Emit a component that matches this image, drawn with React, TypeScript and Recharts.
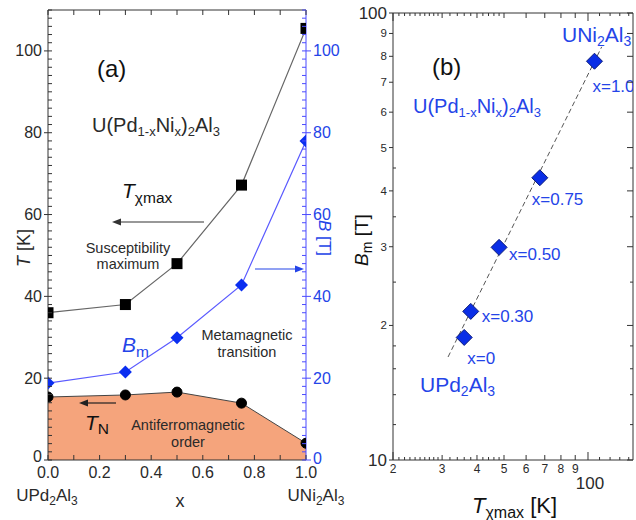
import React from "react";
import { ComposedChart, Line, Area, Scatter, XAxis, YAxis } from "recharts";

const FONT = '"Liberation Sans", Arial, Helvetica, sans-serif';
const INK = "#2a2a2a";
const BLUE = "#2444e8";
const AXIS_BLUE = "#4a4aff";
const AFM_FILL = "#f5a47c";

// composition x of U(Pd1-xNix)2Al3
const compX = [0, 0.3, 0.5, 0.75, 1.0];
// susceptibility maximum T_chimax [K]
const tChiMax = [36, 38, 48, 67.2, 105.5];
// Neel temperature T_N [K]
const tNeel = [15.4, 15.9, 16.6, 13.9, 4.1];
// metamagnetic field B_m [T]
const bMeta = [18.8, 21.5, 29.9, 42.8, 78];
const compLabels = ["x=0", "x=0.30", "x=0.50", "x=0.75", "x=1.0"];

// dashed guide line of panel (b), end points
const guideT = [31.5, 112];
const guideB = [17, 84];

// ticks
const xTicksA = [0, 0.2, 0.4, 0.6, 0.8, 1.0];
const xMinorA = [0, 0.1, 0.2, 0.3, 0.4, 0.5, 0.6, 0.7, 0.8, 0.9, 1.0];
const yTicksA = [0, 20, 40, 60, 80, 100];
const yMinorA = Array.from({ length: 56 }, (_, i) => i * 2);
const tTicksB = [20, 30, 40, 50, 60, 70, 80, 90, 100];
const tTickLabelsB = ["2", "3", "4", "5", "6", "7", "8", "9", "100"];
const tMinorB = [21, 22, 23, 24, 25, 26, 27, 28, 29, 32, 34, 36, 38, 42, 44, 46, 48, 110, 120, 130, 140];
const bTicksB = [10, 20, 30, 40, 50, 60, 70, 80, 90, 100];
const bTickLabelsB = ["10", "2", "3", "4", "5", "6", "7", "8", "9", "100"];
const bMinorB = [12, 14, 16, 18, 25, 35, 45];

const tAllB = [...tTicksB, ...tMinorB].sort((a, b) => a - b);
const bAllB = [...bTicksB, ...bMinorB].sort((a, b) => a - b);

type Part = [string, "n" | "s" | "i"];
const upd: Part[] = [["UPd", "n"], ["2", "s"], ["Al", "n"], ["3", "s"]];
const uni: Part[] = [["UNi", "n"], ["2", "s"], ["Al", "n"], ["3", "s"]];
const alloy: Part[] = [["U(Pd", "n"], ["1-x", "s"], ["Ni", "n"], ["x", "s"], [")", "n"], ["2", "s"], ["Al", "n"], ["3", "s"]];

const rowsA = compX.map((x, i) => ({ x, tchi: tChiMax[i], tn: tNeel[i], bm: bMeta[i] }));
const pointsB = compX.map((_, i) => ({ t: tChiMax[i], b: bMeta[i], label: compLabels[i] }));
const guideRows = guideT.map((t, i) => ({ t, b: guideB[i] }));

// where each x=... label sits relative to its diamond
const labelOffsetB = [[3, 27], [11, 11], [10, 13], [-8, 27], [-2, 31]];

const Rich = ({ parts, size, sub, shift = 4 }: { parts: Part[]; size: number; sub: number; shift?: number }) => {
  let cur = 0;
  return (
    <>
      {parts.map(([s, k], i) => {
        const target = k === "s" ? shift : 0;
        const dy = target - cur;
        cur = target;
        return (
          <tspan key={i} dy={dy} fontSize={k === "s" ? sub : size} fontStyle={k === "i" ? "italic" : undefined}>
            {s}
          </tspan>
        );
      })}
    </>
  );
};

const near = (arr: number[], v: number) => arr.some((a) => Math.abs(a - v) < 1e-6);

// ---- panel (a) ticks: tick marks drawn by hand so they can point inward
const BottomTickA = (p: any) => {
  const v = p.payload.value as number;
  const major = near(xTicksA, v);
  return (
    <g>
      <line x1={p.x} x2={p.x} y1={p.y} y2={p.y - 5} stroke="#333" />
      {major && (
        <text x={p.x} y={p.y + 18} textAnchor="middle" fontSize={16} fill={INK}>
          {v.toFixed(1)}
        </text>
      )}
      {v === 0 && (
        <text x={p.x - 1} y={p.y + 41} textAnchor="middle" fill={INK}>
          <Rich parts={upd} size={17} sub={12} />
        </text>
      )}
      {v === 1 && (
        <text x={p.x + 10} y={p.y + 41} textAnchor="middle" fill={INK}>
          <Rich parts={uni} size={17} sub={12} />
        </text>
      )}
    </g>
  );
};

const TopTickA = (p: any) => <line x1={p.x} x2={p.x} y1={p.y} y2={p.y + 5} stroke="#333" />;

const LeftTickA = (p: any) => {
  const v = p.payload.value as number;
  const major = near(yTicksA, v);
  return (
    <g>
      <line x1={p.x} x2={p.x + 4} y1={p.y} y2={p.y} stroke="#333" />
      {major && <line x1={p.x - 4} x2={p.x} y1={p.y} y2={p.y} stroke="#333" />}
      {major && (
        <text x={p.x - 6} y={p.y + (v === 0 ? 2 : 5.5)} textAnchor="end" fontSize={16} fill={INK}>
          {v}
        </text>
      )}
    </g>
  );
};

const RightTickA = (p: any) => {
  const v = p.payload.value as number;
  const major = near(yTicksA, v);
  return (
    <g>
      <line x1={p.x - 4} x2={p.x} y1={p.y} y2={p.y} stroke={AXIS_BLUE} />
      {major && <line x1={p.x} x2={p.x + 5} y1={p.y} y2={p.y} stroke={AXIS_BLUE} />}
      {major && (
        <text x={p.x + 7} y={p.y + (v === 0 ? 4 : 5.5)} textAnchor="start" fontSize={16} fill={BLUE}>
          {v}
        </text>
      )}
    </g>
  );
};

// ---- panel (b) ticks
const tickLenB = (v: number) => (v === 20 || v === 100 ? 8 : near(tTicksB, v) ? 5 : 3);

const BottomTickB = (p: any) => {
  const v = p.payload.value as number;
  const i = tTicksB.indexOf(v);
  return (
    <g>
      <line x1={p.x} x2={p.x} y1={p.y} y2={p.y - tickLenB(v)} stroke="#333" />
      {i === tTicksB.length - 1 && (
        <text x={p.x + 2} y={p.y + 29} textAnchor="middle" fontSize={17} fill={INK}>
          {tTickLabelsB[i]}
        </text>
      )}
      {i >= 0 && i < tTicksB.length - 1 && (
        <text x={p.x} y={p.y + 13} textAnchor="middle" fontSize={12} fill={INK}>
          {tTickLabelsB[i]}
        </text>
      )}
    </g>
  );
};

const TopTickB = (p: any) => (
  <line x1={p.x} x2={p.x} y1={p.y} y2={p.y + tickLenB(p.payload.value)} stroke="#333" />
);

const LeftTickB = (p: any) => {
  const v = p.payload.value as number;
  const i = bTicksB.indexOf(v);
  if (i < 0) return <line x1={p.x} x2={p.x + 3} y1={p.y} y2={p.y} stroke="#333" />;
  const big = i === 0 || i === bTicksB.length - 1;
  return (
    <g>
      <line x1={p.x - 4} x2={p.x} y1={p.y} y2={p.y} stroke="#333" />
      <text x={p.x - 6} y={p.y + (big ? 6 : 4)} textAnchor="end" fontSize={big ? 17 : 11.5} fill={INK}>
        {bTickLabelsB[i]}
      </text>
    </g>
  );
};

const RightTickB = (p: any) => {
  const v = p.payload.value as number;
  const len = near(bTicksB, v) ? 6 : 3;
  return <line x1={p.x - len} x2={p.x} y1={p.y} y2={p.y} stroke="#333" />;
};

// ---- markers
const Square = (p: any) => (
  <rect key={`sq${p.index}`} x={p.cx - 5.5} y={p.cy - 5.5} width={11} height={11} fill="#000" />
);

const DiamondA = (p: any) => {
  const r = 6.5;
  const { cx, cy } = p;
  return (
    <polygon
      key={`da${p.index}`}
      points={`${cx},${cy - r} ${cx + r},${cy} ${cx},${cy + r} ${cx - r},${cy}`}
      fill="#0a2ef0"
    />
  );
};

const DiamondB = (p: any) => {
  const { cx, cy } = p;
  const i = tChiMax.indexOf(p.payload?.t);
  const [dx, dy] = labelOffsetB[i] ?? [8, 8];
  const r = 8;
  return (
    <g>
      <polygon
        points={`${cx},${cy - r} ${cx + r},${cy} ${cx},${cy + r} ${cx - r},${cy}`}
        fill="#0a2ee6"
        stroke="#0a1a7a"
        strokeWidth={1}
      />
      <text x={cx + dx} y={cy + dy} fill={BLUE} fontSize={17}>
        {p.payload?.label}
      </text>
    </g>
  );
};

const Arrow = ({ x1, x2, y, color }: { x1: number; x2: number; y: number; color: string }) => {
  const dir = x2 > x1 ? 1 : -1;
  return (
    <g>
      <line x1={x1} y1={y} x2={x2 - dir * 6} y2={y} stroke={color} strokeWidth={1.2} />
      <polygon points={`${x2},${y} ${x2 - dir * 9},${y - 3.5} ${x2 - dir * 9},${y + 3.5}`} fill={color} />
    </g>
  );
};

const PanelA = () => (
  <ComposedChart width={360} height={520} data={rowsA} margin={{ top: 9, right: 20, bottom: 30, left: 12 }}>
    <XAxis
      dataKey="x"
      type="number"
      domain={[0, 1]}
      ticks={xMinorA}
      interval={0}
      allowDataOverflow
      tickLine={false}
      tickSize={0}
      tickMargin={0}
      height={30}
      stroke="#333"
      tick={<BottomTickA />}
    />
    <XAxis
      xAxisId="top"
      orientation="top"
      dataKey="x"
      type="number"
      domain={[0, 1]}
      ticks={xMinorA}
      interval={0}
      allowDataOverflow
      tickLine={false}
      tickSize={0}
      tickMargin={0}
      height={1}
      stroke="#333"
      tick={<TopTickA />}
    />
    <YAxis
      type="number"
      domain={[0, 110]}
      ticks={yMinorA}
      interval={0}
      allowDataOverflow
      width={36}
      tickLine={false}
      tickSize={0}
      tickMargin={0}
      stroke="#333"
      tick={<LeftTickA />}
    />
    <YAxis
      yAxisId="r"
      orientation="right"
      type="number"
      domain={[0, 110]}
      ticks={yMinorA}
      interval={0}
      allowDataOverflow
      width={34}
      tickLine={false}
      tickSize={0}
      tickMargin={0}
      stroke={AXIS_BLUE}
      tick={<RightTickA />}
    />
    <Area
      dataKey="tn"
      type="linear"
      baseValue={0}
      fill={AFM_FILL}
      fillOpacity={1}
      stroke="#444"
      strokeWidth={1}
      dot={{ r: 5, fill: "#000", stroke: "#000" }}
      activeDot={false}
      isAnimationActive={false}
    />
    <Line dataKey="tchi" xAxisId="top" type="linear" stroke="#666" strokeWidth={1.2} dot={Square} activeDot={false} isAnimationActive={false} />
    <Line dataKey="bm" yAxisId="r" type="linear" stroke="#5a5aff" strokeWidth={1.2} dot={DiamondA} activeDot={false} isAnimationActive={false} />
  </ComposedChart>
);

const PanelB = () => (
  <ComposedChart width={306} height={520} margin={{ top: 12, right: 2, bottom: 30, left: 23 }}>
    <XAxis
      dataKey="t"
      type="number"
      scale="log"
      domain={[20, 145]}
      allowDataOverflow
      ticks={tAllB}
      interval={0}
      tickLine={false}
      tickSize={0}
      tickMargin={0}
      height={30}
      stroke="#333"
      tick={<BottomTickB />}
    />
    <XAxis
      xAxisId="top"
      orientation="top"
      dataKey="t"
      type="number"
      scale="log"
      domain={[20, 145]}
      allowDataOverflow
      ticks={tAllB}
      interval={0}
      tickLine={false}
      tickSize={0}
      tickMargin={0}
      height={1}
      stroke="#333"
      tick={<TopTickB />}
    />
    <YAxis
      dataKey="b"
      type="number"
      scale="log"
      domain={[10, 100]}
      allowDataOverflow
      ticks={bAllB}
      interval={0}
      width={40}
      tickLine={false}
      tickSize={0}
      tickMargin={0}
      stroke="#333"
      tick={<LeftTickB />}
    />
    <YAxis
      yAxisId="right"
      orientation="right"
      dataKey="b"
      type="number"
      scale="log"
      domain={[10, 100]}
      allowDataOverflow
      ticks={bAllB}
      interval={0}
      width={1}
      tickLine={false}
      tickSize={0}
      tickMargin={0}
      stroke="#333"
      tick={<RightTickB />}
    />
    <Line data={guideRows} dataKey="b" type="linear" stroke="#555" strokeWidth={1} strokeDasharray="5 3" dot={false} activeDot={false} isAnimationActive={false} />
    <Scatter data={pointsB} dataKey="b" xAxisId="top" yAxisId="right" shape={DiamondB} isAnimationActive={false} />
  </ComposedChart>
);

export default function App() {
  return (
    <div
      style={{
        position: "absolute",
        left: 0,
        top: 0,
        width: 636,
        height: 520,
        background: "#fff",
        fontFamily: FONT,
        overflow: "hidden",
      }}
    >
      <div style={{ position: "absolute", left: 0, top: 0 }}>
        <PanelA />
      </div>
      <div style={{ position: "absolute", left: 330, top: 0 }}>
        <PanelB />
      </div>
      <svg width={636} height={520} style={{ position: "absolute", left: 0, top: 0, pointerEvents: "none" }} fontFamily={FONT}>
        {/* panel (a) annotations */}
        <text x={97} y={77} fontSize={24} fill="#111">(a)</text>
        <text x={92} y={132} fill={INK}>
          <Rich parts={alloy} size={20} sub={13} />
        </text>
        <text x={122} y={198} fill="#111">
          <Rich parts={[["T", "i"], ["χmax", "s"]]} size={21} sub={15.5} shift={5} />
        </text>
        <Arrow x1={204} x2={112} y={222} color="#333" />
        <text x={128} y={253} textAnchor="middle" fontSize={14.5} fill={INK}>Susceptibility</text>
        <text x={128} y={269} textAnchor="middle" fontSize={14.5} fill={INK}>maximum</text>
        <text x={122} y={352} fill={BLUE}>
          <Rich parts={[["B", "i"], ["m", "s"]]} size={21} sub={15.5} shift={5} />
        </text>
        <Arrow x1={255} x2={304} y={269} color={BLUE} />
        <text x={247} y={340} textAnchor="middle" fontSize={14.5} fill={INK}>Metamagnetic</text>
        <text x={247} y={357} textAnchor="middle" fontSize={14.5} fill={INK}>transition</text>
        <Arrow x1={116} x2={79} y={403} color="#222" />
        <text x={85} y={430} fill="#111">
          <Rich parts={[["T", "i"], ["N", "s"]]} size={21} sub={15.5} shift={4} />
        </text>
        <text x={188} y={430} textAnchor="middle" fontSize={14.5} fill={INK}>Antiferromagnetic</text>
        <text x={188} y={447} textAnchor="middle" fontSize={14.5} fill={INK}>order</text>
        <text x={180} y={507} textAnchor="middle" fontSize={18} fill={INK}>x</text>
        <text x={30} y={248} textAnchor="middle" fill={INK} transform="rotate(-90 30 248)">
          <Rich parts={[["T", "i"], [" [K]", "n"]]} size={18} sub={13} />
        </text>
        <text x={319} y={238} textAnchor="middle" fill={BLUE} transform="rotate(90 319 238)">
          <Rich parts={[["B", "i"], [" [T]", "n"]]} size={17} sub={12} />
        </text>

        {/* panel (b) annotations */}
        <text x={432} y={75} fontSize={24} fill="#111">(b)</text>
        <text x={413} y={113} fill={BLUE}>
          <Rich parts={alloy} size={20} sub={13} />
        </text>
        <text x={562} y={42} fill={BLUE}>
          <Rich parts={uni} size={21} sub={14} />
        </text>
        <text x={420} y={392} fill={BLUE}>
          <Rich parts={upd} size={21} sub={14} />
        </text>
        <text x={472} y={513} fill="#111">
          <Rich parts={[["T", "i"], ["χmax", "s"], [" [K]", "n"]]} size={22} sub={16} shift={5} />
        </text>
        <text x={368} y={240} textAnchor="middle" fill="#111" transform="rotate(-90 368 240)">
          <Rich parts={[["B", "i"], ["m", "s"], [" [T]", "n"]]} size={19} sub={14} shift={4} />
        </text>
      </svg>
    </div>
  );
}
